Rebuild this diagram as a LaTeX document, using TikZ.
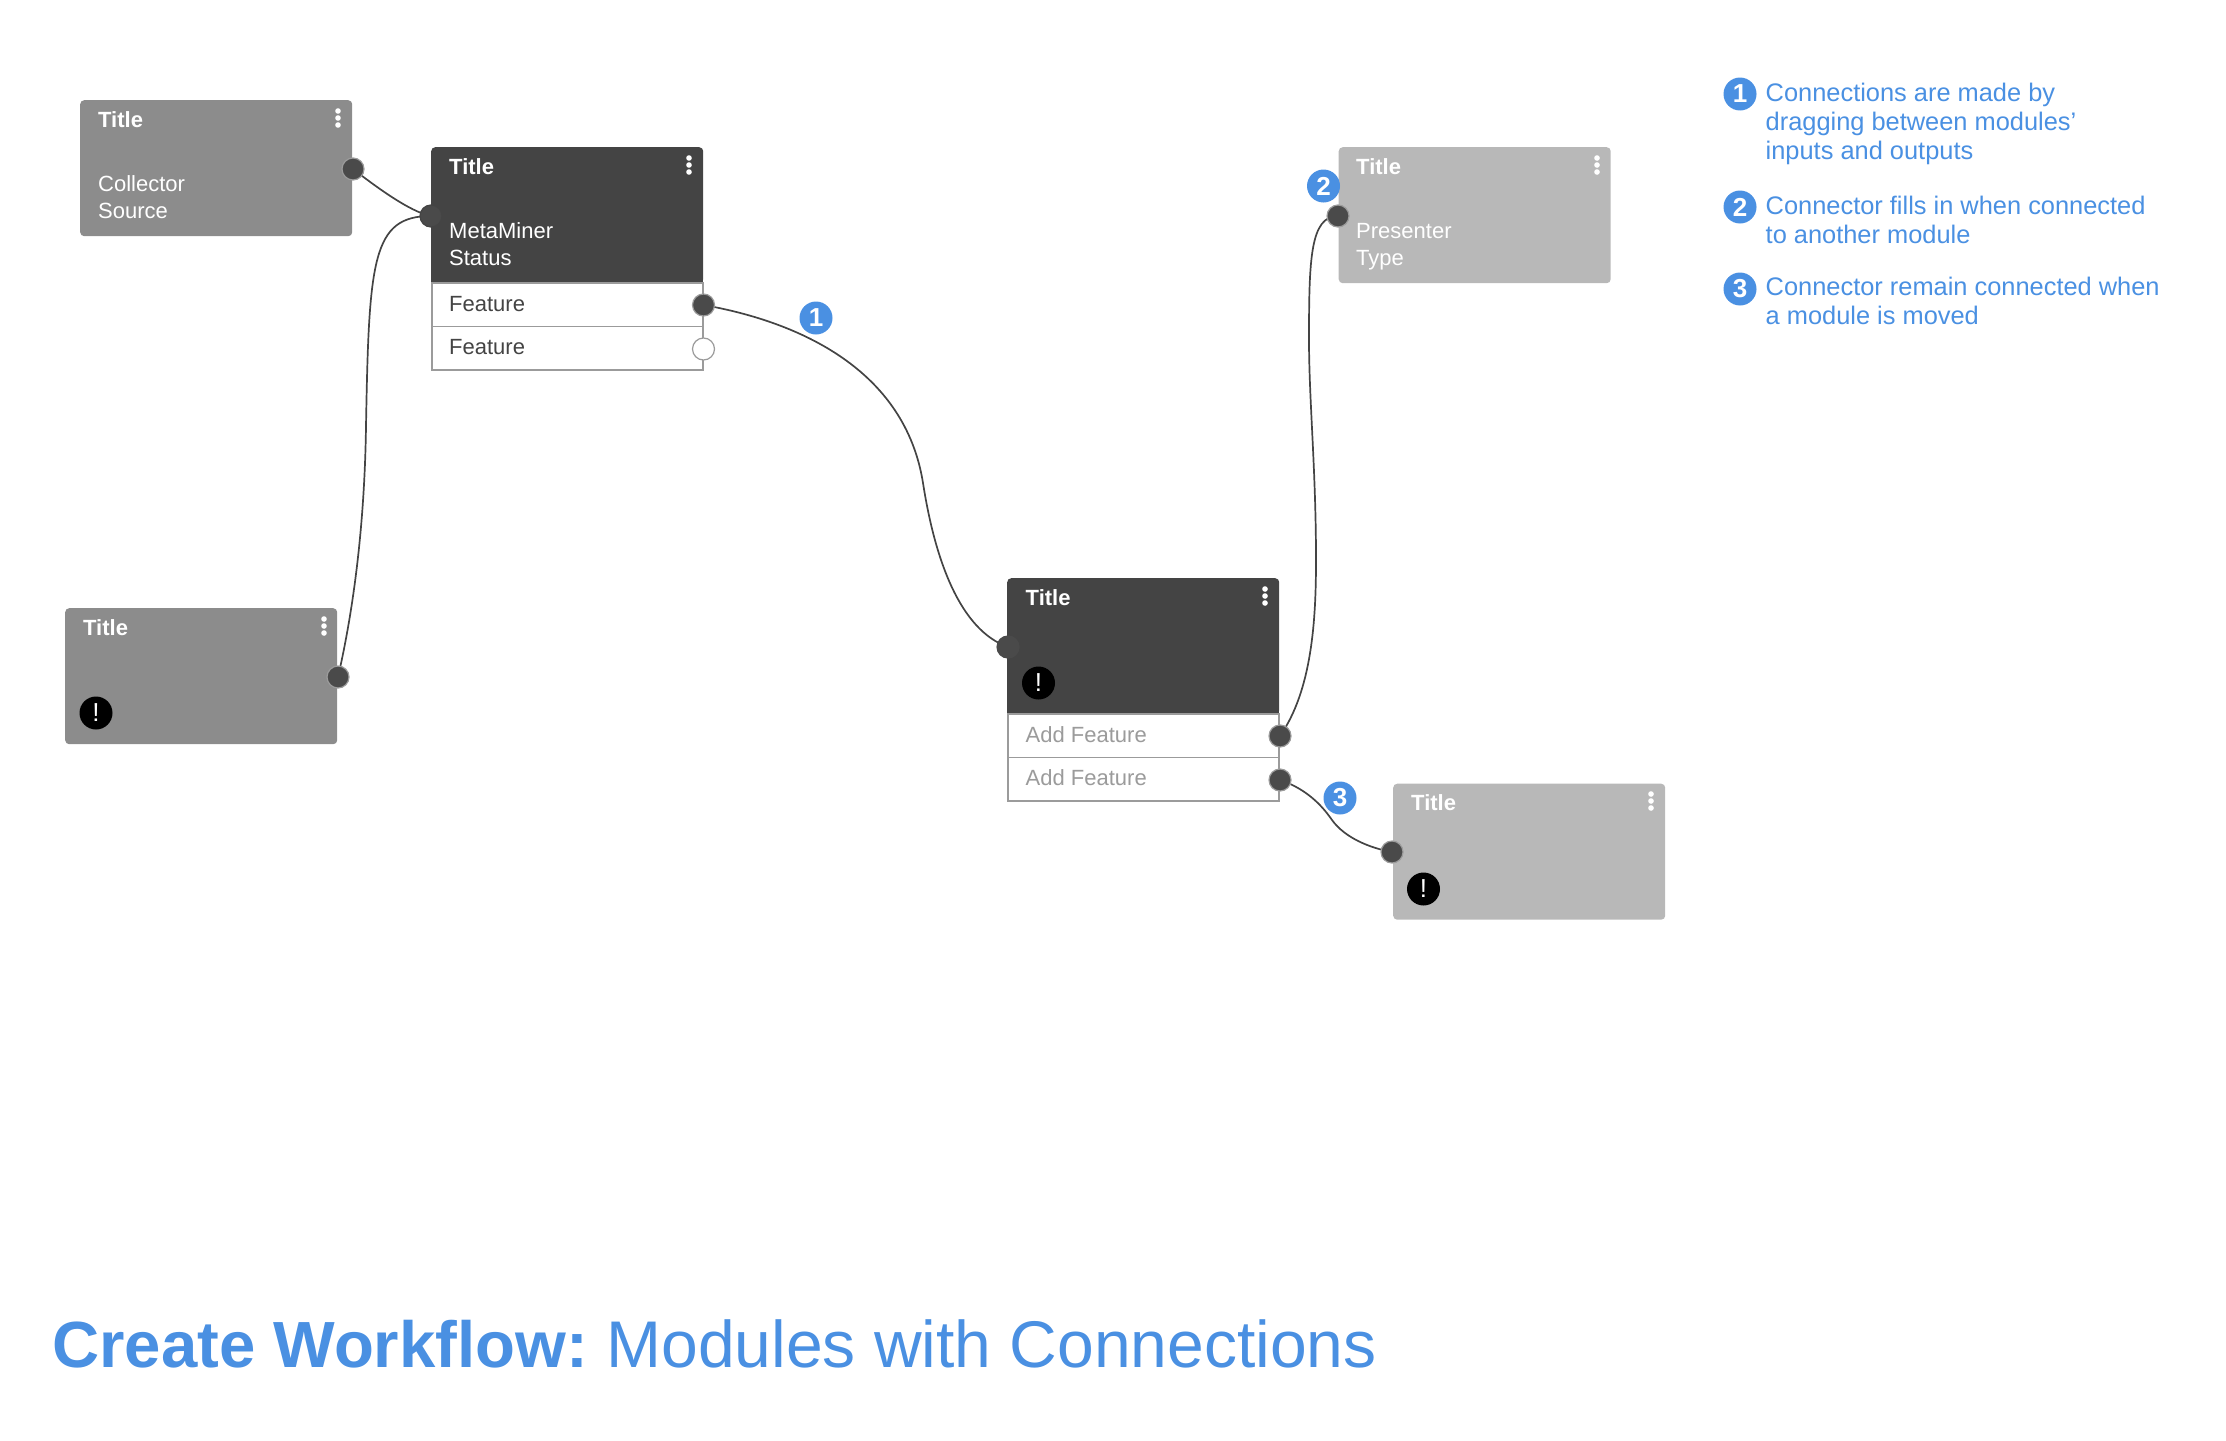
\documentclass[tikz,border=0pt]{standalone}
\usepackage{fontspec}
\setmainfont{Liberation Sans}
\definecolor{markblue}{HTML}{4A90E2}
\definecolor{headmid}{HTML}{8C8C8C}
\definecolor{headdark}{HTML}{444444}
\definecolor{headpale}{HTML}{B8B8B8}
\definecolor{portdark}{HTML}{4A4A4A}
\definecolor{rimgray}{HTML}{9B9B9B}
\newcommand{\moduledots}[2]{\foreach \dy in {-7,0,7} \fill[white] (#1,#2+\dy) circle (2.8);}
\begin{document}
\begin{tikzpicture}[x=1pt,y=-1pt,
  modulebox/.style={anchor=north west,minimum width=272pt,minimum height=136pt,inner sep=0pt,rounded corners=4pt},
  rowbox/.style={draw=rimgray,line width=1.6pt,fill=white,anchor=north west,minimum width=271pt,minimum height=43.5pt,inner sep=0pt},
  wire/.style={draw=headdark,line width=1.7pt},
  portfull/.style={circle,draw=rimgray,fill=portdark,line width=1.2pt,minimum size=22pt,inner sep=0pt},
  portopen/.style={circle,draw=rimgray,fill=white,line width=1.2pt,minimum size=22pt,inner sep=0pt},
  boxtext/.style={anchor=base west,inner sep=0pt,font=\fontsize{22}{27}\selectfont},
  boxtitle/.style={boxtext,font=\fontsize{22}{27}\selectfont\bfseries,text=white},
  warnbadge/.style={circle,fill=black,text=white,minimum size=33pt,inner sep=0pt,font=\fontsize{26}{28}\selectfont},
  markbadge/.style={circle,fill=markblue,text=white,minimum size=33pt,inner sep=0pt,font=\fontsize{26}{28}\selectfont\bfseries},
  legendtext/.style={anchor=base west,inner sep=0pt,text=markblue,font=\fontsize{25.4}{29}\selectfont}]
\useasboundingbox (0,0) rectangle (2226,1440);
\node[modulebox,fill=headmid] (collector) at (80,100) {};
\node[modulebox,fill=headdark] (miner) at (431,147) {};
\node[modulebox,fill=headmid] (orphan) at (65,608) {};
\node[modulebox,fill=headdark] (adder) at (1007,578) {};
\node[modulebox,fill=headpale] (presenter) at (1338.5,147) {};
\node[modulebox,fill=headpale] (sink) at (1393,783.5) {};
\fill[headdark] (431,263) rectangle (703,283);
\fill[headdark] (1007,694) rectangle (1279,714);
\node[rowbox] (minerrowa) at (431.3,282) {};
\node[rowbox] (minerrowb) at (431.3,325.5) {};
\node[rowbox] (adderrowa) at (1007.3,713) {};
\node[rowbox] (adderrowb) at (1007.3,756.5) {};
\moduledots{338}{118}
\moduledots{689}{165}
\moduledots{324}{626}
\moduledots{1265}{596}
\moduledots{1597}{165}
\moduledots{1651}{801}
\node[boxtitle] (collectortitle) at (98,127) {Title};
\node[boxtext,text=white] (collectorname) at (98,191) {Collector};
\node[boxtext,text=white] (collectortype) at (98,218) {Source};
\node[boxtitle] (minertitle) at (449,174) {Title};
\node[boxtext,text=white] (minername) at (449,238) {MetaMiner};
\node[boxtext,text=white] (minertype) at (449,265) {Status};
\node[boxtext,text=headdark] (minerfeata) at (449,311) {Feature};
\node[boxtext,text=headdark] (minerfeatb) at (449,354) {Feature};
\node[boxtitle] (orphantitle) at (83,635) {Title};
\node[boxtitle] (addertitle) at (1025.5,605) {Title};
\node[boxtext,text=rimgray] (adderfeata) at (1025.5,742) {Add Feature};
\node[boxtext,text=rimgray] (adderfeatb) at (1025.5,785) {Add Feature};
\node[boxtitle] (presentertitle) at (1356,174) {Title};
\node[boxtext,text=white] (presentername) at (1356,238) {Presenter};
\node[boxtext,text=white] (presentertype) at (1356,265) {Type};
\node[boxtitle] (sinktitle) at (1411,810) {Title};
\node[warnbadge] (orphanwarn) at (96,713) {!};
\node[warnbadge] (adderwarn) at (1038.5,683) {!};
\node[warnbadge] (sinkwarn) at (1423.5,889) {!};
\coordinate (collectorout) at (353,169);
\coordinate (minerin) at (431,216);
\coordinate (minerout) at (703.5,305);
\coordinate (orphanout) at (338,677);
\coordinate (adderin) at (1008,647);
\coordinate (adderouta) at (1280,736);
\coordinate (adderoutb) at (1280,780);
\coordinate (presenterin) at (1338,216);
\coordinate (sinkin) at (1392,852);
\draw[wire] (collectorout) .. controls (375,186) and (410,212) .. (minerin);
\draw[wire] (orphanout) .. controls (358,590) and (365,500) .. (366,426) .. controls (369,260) and (372,216) .. (minerin);
\draw[wire] (minerout) .. controls (800,322) and (905,370) .. (923,483) .. controls (935,560) and (960,630) .. (adderin);
\draw[wire] (adderouta) .. controls (1312,690) and (1316,620) .. (1316,560) .. controls (1316,470) and (1309,400) .. (1309,340) .. controls (1309,260) and (1310,216) .. (presenterin);
\draw[wire] (adderoutb) .. controls (1310,790) and (1325,810) .. (1332,820) .. controls (1345,838) and (1370,848) .. (sinkin);
\node[portfull] (collectorport) at (collectorout) {};
\node[portfull,draw=headdark] (minerinport) at (minerin) {};
\node[portfull] (mineroutport) at (minerout) {};
\node[portopen] (minerfree) at (703.5,349) {};
\node[portfull] (orphanport) at (orphanout) {};
\node[portfull,draw=portdark] (adderinport) at (adderin) {};
\node[portfull] (adderoutaport) at (adderouta) {};
\node[portfull] (adderoutbport) at (adderoutb) {};
\node[portfull] (presenterport) at (presenterin) {};
\node[portfull] (sinkport) at (sinkin) {};
\node[markbadge] (markone) at (816,318) {1};
\node[markbadge] (marktwo) at (1323.5,186) {2};
\node[markbadge] (markthree) at (1340,798) {3};
\node[markbadge] (legendone) at (1740,94) {1};
\node[markbadge] (legendtwo) at (1740,207) {2};
\node[markbadge] (legendthree) at (1740,289) {3};
\node[legendtext] (noteonea) at (1765.5,101) {Connections are made by};
\node[legendtext] (noteoneb) at (1765.5,130) {dragging between modules’};
\node[legendtext] (noteonec) at (1765.5,159) {inputs and outputs};
\node[legendtext] (notetwoa) at (1765.5,214) {Connector fills in when connected};
\node[legendtext] (notetwob) at (1765.5,243) {to another module};
\node[legendtext] (notethreea) at (1765.5,295) {Connector remain connected when};
\node[legendtext] (notethreeb) at (1765.5,324) {a module is moved};
\node[anchor=base west,inner sep=0pt,text=markblue,font=\fontsize{66}{70}\selectfont] (heading) at (52,1367) {{\fontsize{65.3}{70}\selectfont\bfseries Create Workflow:} \hspace*{-6pt}Modules with Connections};
\end{tikzpicture}
\end{document}
